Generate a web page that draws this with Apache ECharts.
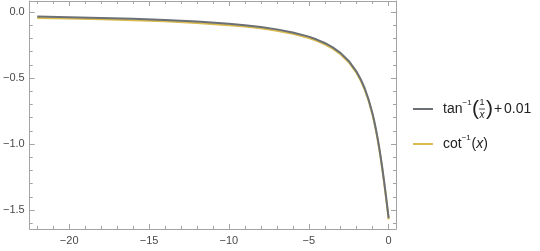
<!DOCTYPE html>
<html><head><meta charset="utf-8">
<script src="https://cdn.jsdelivr.net/npm/echarts@6/dist/echarts.min.js"></script>
<style>html,body{margin:0;padding:0;background:#fff}#c{width:540px;height:251px}</style>
</head><body><div id="c"></div>
<script>
// ---- data ----
const xValues = [-22, -20, -18, -16, -14, -12, -10, -9, -8, -7, -6, -5, -4.5, -4, -3.5, -3, -2.5, -2, -1.75, -1.5, -1.25, -1, -0.9, -0.8, -0.7, -0.6, -0.5, -0.4, -0.3, -0.2, -0.15, -0.1, -0.05, -0.02, 0];
const cotValues = [-0.045, -0.050, -0.056, -0.062, -0.071, -0.083, -0.100, -0.111, -0.124, -0.142, -0.165, -0.197, -0.219, -0.245, -0.278, -0.322, -0.381, -0.464, -0.519, -0.588, -0.675, -0.785, -0.838, -0.896, -0.960, -1.030, -1.107, -1.190, -1.279, -1.373, -1.422, -1.471, -1.521, -1.551, -1.571];
const tanValues = [-0.035, -0.040, -0.046, -0.052, -0.061, -0.073, -0.090, -0.101, -0.114, -0.132, -0.155, -0.187, -0.209, -0.235, -0.268, -0.312, -0.371, -0.454, -0.509, -0.578, -0.665, -0.775, -0.828, -0.886, -0.950, -1.020, -1.097, -1.180, -1.269, -1.363, -1.412, -1.461, -1.511, -1.541, -1.561];
const xMajorTicks = [-20, -15, -10, -5, 0];
const xMinorTicks = [-22, -21, -19, -18, -17, -16, -14, -13, -12, -11, -9, -8, -7, -6, -4, -3, -2, -1];
const yMajorTicks = [0, -0.5, -1, -1.5];
const yMinorTicks = [-0.1, -0.2, -0.3, -0.4, -0.6, -0.7, -0.8, -0.9, -1.1, -1.2, -1.3, -1.4, -1.6];

const tanColor = '#6b7076';
const cotColor = '#d9bb4e';
const frameColor = '#a3a3a3';
const labelColor = '#4a4a4a';
const textColor = '#222';
const FONT = '"Liberation Sans", Arial, sans-serif';

const chart = echarts.init(document.getElementById('c'), null, {renderer: 'canvas'});
const X_MIN = -22.47, X_MAX = 0.46, Y_MIN = -1.644, Y_MAX = 0.083;
const fmtMinus = s => s.replace('-', '\u2212');

function xAxisDef(pos, major, withLabels) {
  return {
    type: 'value', position: pos, min: X_MIN, max: X_MAX,
    axisLine: {show: major, onZero: false, lineStyle: {color: frameColor, width: 1}},
    axisTick: {show: true, inside: true, length: major ? 5 : 3, customValues: major ? xMajorTicks : xMinorTicks, lineStyle: {color: frameColor}},
    axisLabel: {show: withLabels, customValues: xMajorTicks, margin: 6, color: labelColor, fontSize: 11, fontFamily: FONT,
      formatter: v => fmtMinus(String(Math.round(v)))},
    splitLine: {show: false}
  };
}
function yAxisDef(pos, major, withLabels) {
  return {
    type: 'value', position: pos, min: Y_MIN, max: Y_MAX,
    axisLine: {show: major, onZero: false, lineStyle: {color: frameColor, width: 1}},
    axisTick: {show: true, inside: true, length: major ? 5 : 3, customValues: major ? yMajorTicks : yMinorTicks, lineStyle: {color: frameColor}},
    axisLabel: {show: withLabels, customValues: yMajorTicks, margin: 5, color: labelColor, fontSize: 11, fontFamily: FONT,
      formatter: v => fmtMinus(v.toFixed(1))},
    splitLine: {show: false}
  };
}

const tanData = xValues.map((x, i) => [x, tanValues[i]]);
const cotData = xValues.map((x, i) => [x, cotValues[i]]);

const lx = 413, tx = 443, y1 = 109, y2 = 144;
const txt = (x, y, s, size, extra) => Object.assign({type: 'text', x: x, y: y, style: Object.assign({text: s, fill: textColor, font: size + 'px ' + FONT, textVerticalAlign: 'middle'}, extra || {})});

chart.setOption({
  animation: false,
  backgroundColor: '#fff',
  grid: {left: 26, right: 144, top: 1, bottom: 22, containLabel: false},
  xAxis: [xAxisDef('bottom', true, true), xAxisDef('bottom', false, false), xAxisDef('top', true, false), xAxisDef('top', false, false)],
  yAxis: [yAxisDef('left', true, true), yAxisDef('left', false, false), yAxisDef('right', true, false), yAxisDef('right', false, false)],
  series: [
    {name: 'cot', type: 'line', data: cotData, showSymbol: false, z: 2, lineStyle: {color: cotColor, width: 2}, itemStyle: {color: cotColor}},
    {name: 'tan', type: 'line', data: tanData, showSymbol: false, z: 3, lineStyle: {color: tanColor, width: 2}, itemStyle: {color: tanColor}}
  ],
  graphic: [
    {type: 'line', shape: {x1: lx, y1: y1, x2: lx + 20, y2: y1}, style: {stroke: tanColor, lineWidth: 2}},
    txt(tx, y1, 'tan', 14),
    txt(tx + 19.5, y1 - 6, '\u22121', 8),
    txt(tx + 29, y1, '(', 21),
    txt(tx + 39, y1 - 6.5, '1', 9, {textAlign: 'center'}),
    {type: 'line', shape: {x1: tx + 36, y1: y1, x2: tx + 42, y2: y1}, style: {stroke: textColor, lineWidth: 0.8}},
    txt(tx + 39, y1 + 6.5, 'x', 10, {textAlign: 'center', font: 'italic 10px ' + FONT}),
    txt(tx + 43, y1, ')', 21),
    txt(tx + 51, y1, '+', 14),
    txt(tx + 61, y1, '0.01', 14),
    {type: 'line', shape: {x1: lx, y1: y2, x2: lx + 20, y2: y2}, style: {stroke: cotColor, lineWidth: 2}},
    txt(tx, y2, 'cot', 14),
    txt(tx + 18.7, y2 - 6, '\u22121', 8),
    txt(tx + 28.5, y2, '(', 14),
    txt(tx + 33.2, y2, 'x', 14, {font: 'italic 14px ' + FONT}),
    txt(tx + 40.2, y2, ')', 14)
  ]
});
</script></body></html>
